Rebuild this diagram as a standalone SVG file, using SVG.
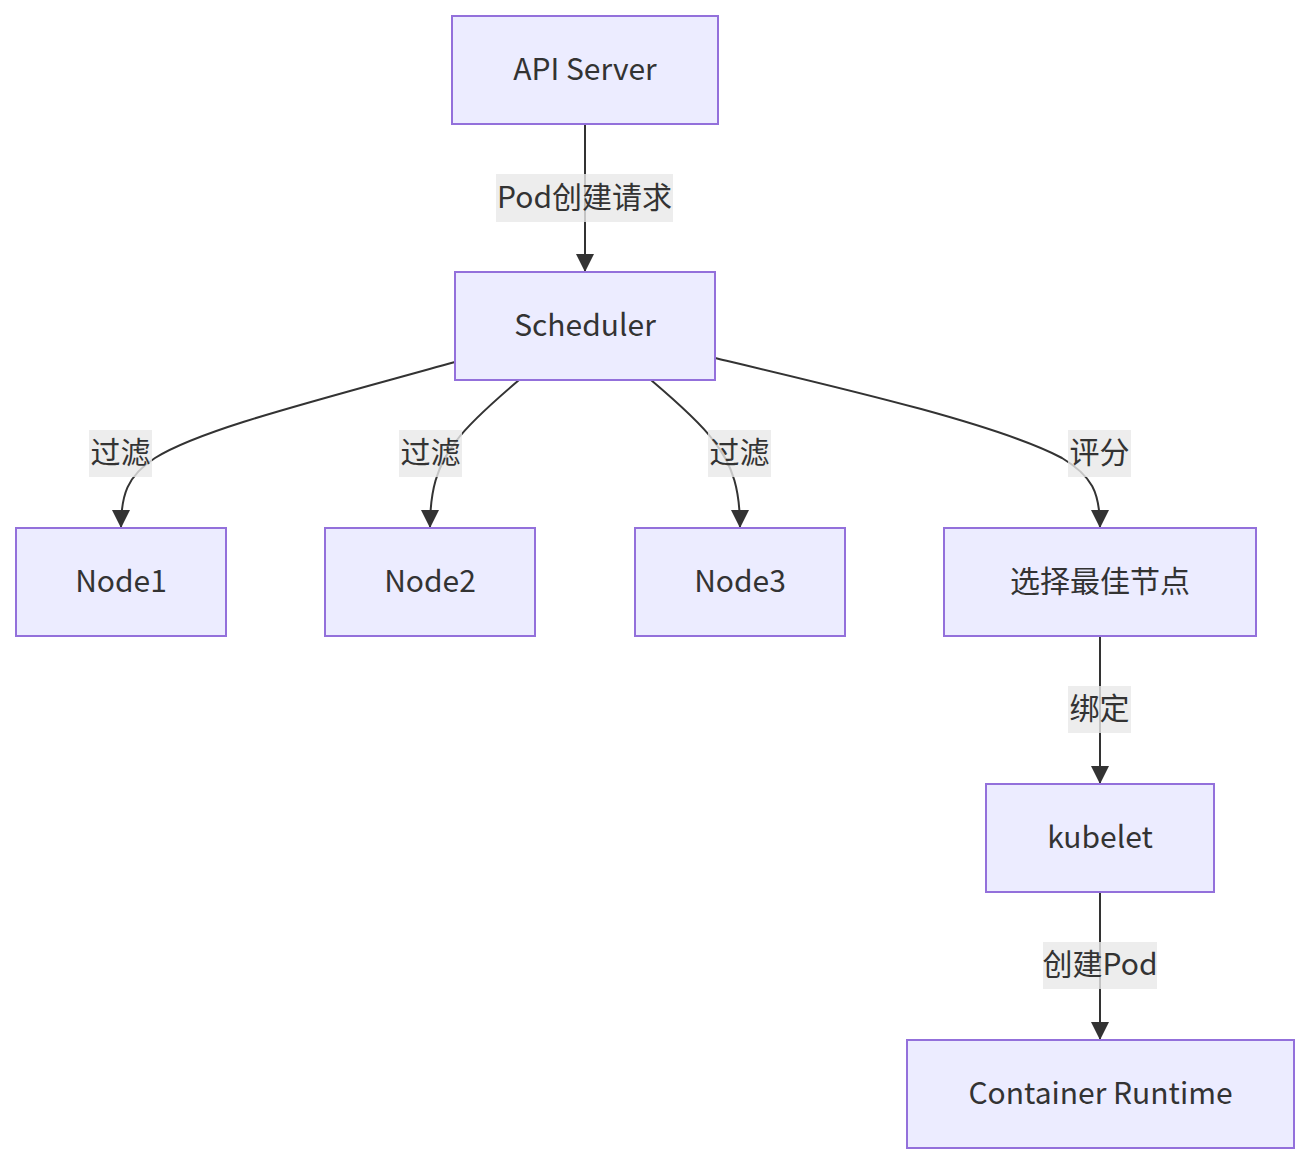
<svg xmlns="http://www.w3.org/2000/svg" width="1310" height="1164" viewBox="0 0 1310 1164">
<style>
.node text,.lbl text{font-family:"Noto Sans CJK SC","Noto Sans",sans-serif;font-size:30px;fill:#333;text-anchor:middle;dominant-baseline:central}
.node rect{fill:#ECECFF;stroke:#9370DB;stroke-width:2}
.edge{fill:none;stroke:#333;stroke-width:2}
.lbl rect{fill:#e8e8e8;fill-opacity:0.8}
</style>
<defs>
<marker id="arr" markerUnits="userSpaceOnUse" markerWidth="18" markerHeight="18" refX="16" refY="8" orient="auto" viewBox="0 0 16 16">
<path d="M0,0 L16,8 L0,16 z" fill="#333"/>
</marker>
</defs>
<rect width="1310" height="1164" fill="#fff"/>
<g id="connectors">
<path class="edge" d="M585,124 L585,272" marker-end="url(#arr)"/>
<path class="edge" d="M455,362 C300,405 200,430 155,458 C127,476 121,495 121,528" marker-end="url(#arr)"/>
<path class="edge" d="M519,380 C492,403 468,425 457,440 C436,466 430,492 430,528" marker-end="url(#arr)"/>
<path class="edge" d="M651,380 C678,403 702,425 713,440 C734,466 740,492 740,528" marker-end="url(#arr)"/>
<path class="edge" d="M715,358 C850,390 1000,425 1062,458 C1092,476 1100,492 1100,528" marker-end="url(#arr)"/>
<path class="edge" d="M1100,636 L1100,784" marker-end="url(#arr)"/>
<path class="edge" d="M1100,892 L1100,1040" marker-end="url(#arr)"/>
</g>
<g id="edge-labels">
<g class="lbl"><rect x="496" y="174" width="177" height="48"/><text x="584.5" y="195">Pod创建请求</text></g>
<g class="lbl"><rect x="89" y="430" width="63" height="47"/><text x="120.5" y="450">过滤</text></g>
<g class="lbl"><rect x="399" y="430" width="63" height="47"/><text x="430.5" y="450">过滤</text></g>
<g class="lbl"><rect x="708" y="430" width="63" height="47"/><text x="739.5" y="450">过滤</text></g>
<g class="lbl"><rect x="1068" y="430" width="63" height="47"/><text x="1099.5" y="450">评分</text></g>
<g class="lbl"><rect x="1068" y="686" width="63" height="47"/><text x="1099.5" y="706">绑定</text></g>
<g class="lbl"><rect x="1043" y="942" width="114" height="47"/><text x="1100" y="962">创建Pod</text></g>
</g>
<g id="api-server" class="node"><rect x="452" y="16" width="266" height="108"/><text x="585" y="67">API Server</text></g>
<g id="scheduler" class="node"><rect x="455" y="272" width="260" height="108"/><text x="585" y="323">Scheduler</text></g>
<g id="node1" class="node"><rect x="16" y="528" width="210" height="108"/><text x="121" y="579">Node1</text></g>
<g id="node2" class="node"><rect x="325" y="528" width="210" height="108"/><text x="430" y="579">Node2</text></g>
<g id="node3" class="node"><rect x="635" y="528" width="210" height="108"/><text x="740" y="579">Node3</text></g>
<g id="select-best" class="node"><rect x="944" y="528" width="312" height="108"/><text x="1100" y="579">选择最佳节点</text></g>
<g id="kubelet" class="node"><rect x="986" y="784" width="228" height="108"/><text x="1100" y="835">kubelet</text></g>
<g id="container-runtime" class="node"><rect x="907" y="1040" width="387" height="108"/><text x="1100.5" y="1091">Container Runtime</text></g>
</svg>
